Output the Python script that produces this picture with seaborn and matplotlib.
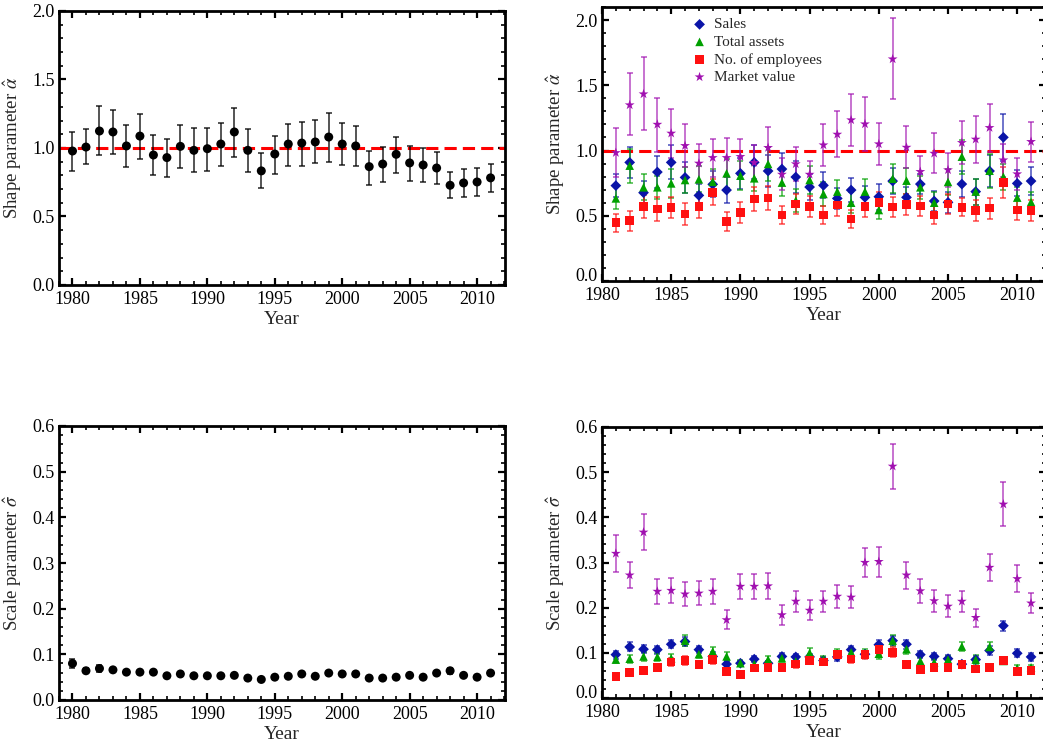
import numpy as np
import pandas as pd
import matplotlib
matplotlib.use("Agg")
import matplotlib.pyplot as plt
from matplotlib.ticker import MultipleLocator, FormatStrFormatter
import seaborn as sns

# ---------------- data ----------------
years_all = list(range(1980, 2012))
years_sub = list(range(1981, 2012))

alpha_all = [0.978, 1.007, 1.124, 1.117, 1.015, 1.087, 0.949, 0.930, 1.012, 0.983, 0.995, 1.029,
             1.117, 0.983, 0.833, 0.956, 1.029, 1.036, 1.044, 1.080, 1.029, 1.015, 0.864, 0.883,
             0.954, 0.891, 0.876, 0.854, 0.728, 0.745, 0.752, 0.782]
alpha_all_hi = [1.114, 1.136, 1.303, 1.274, 1.165, 1.245, 1.092, 1.063, 1.165, 1.148, 1.148, 1.184,
                1.289, 1.136, 0.961, 1.090, 1.177, 1.192, 1.201, 1.252, 1.180, 1.163, 0.981, 1.010,
                1.083, 1.017, 0.998, 0.973, 0.823, 0.847, 0.852, 0.881]
alpha_all_lo = [0.833, 0.881, 0.947, 0.959, 0.864, 0.920, 0.803, 0.786, 0.854, 0.825, 0.833, 0.869,
                0.937, 0.825, 0.706, 0.813, 0.871, 0.871, 0.888, 0.900, 0.876, 0.871, 0.731, 0.755,
                0.820, 0.762, 0.750, 0.735, 0.636, 0.643, 0.653, 0.677]

sigma_all = [0.080, 0.064, 0.069, 0.066, 0.061, 0.061, 0.061, 0.053, 0.057, 0.053, 0.053, 0.053,
             0.054, 0.048, 0.045, 0.050, 0.052, 0.057, 0.052, 0.059, 0.057, 0.057, 0.048, 0.048,
             0.050, 0.054, 0.050, 0.059, 0.064, 0.054, 0.050, 0.059]
sigma_all_err = [0.010, 0.005, 0.007, 0.005, 0.004, 0.004, 0.004, 0.004, 0.004, 0.004, 0.004, 0.004,
                 0.004, 0.004, 0.004, 0.004, 0.004, 0.004, 0.004, 0.004, 0.004, 0.004, 0.004, 0.004,
                 0.004, 0.004, 0.004, 0.005, 0.007, 0.004, 0.004, 0.005]

series_names = ["Sales", "Total assets", "No. of employees", "Market value"]

alpha_sales = [0.731, 0.909, 0.677, 0.835, 0.909, 0.794, 0.656, 0.741, 0.697, 0.825, 0.909, 0.843,
               0.858, 0.797, 0.720, 0.733, 0.633, 0.697, 0.641, 0.646, 0.766, 0.641, 0.743, 0.613,
               0.603, 0.743, 0.685, 0.843, 1.101, 0.748, 0.766]
alpha_sales_err = [0.09, 0.12, 0.09, 0.12, 0.13, 0.12, 0.09, 0.10, 0.10, 0.12, 0.13, 0.12, 0.12, 0.12,
                   0.10, 0.10, 0.08, 0.09, 0.09, 0.10, 0.10, 0.08, 0.08, 0.08, 0.08, 0.10, 0.10, 0.12,
                   0.18, 0.10, 0.105]
alpha_assets = [0.633, 0.884, 0.718, 0.718, 0.748, 0.774, 0.779, 0.760, 0.825, 0.807, 0.787, 0.897,
                0.754, 0.616, 0.774, 0.667, 0.685, 0.600, 0.685, 0.544, 0.784, 0.769, 0.718, 0.600,
                0.759, 0.953, 0.685, 0.845, 0.799, 0.639, 0.605]
alpha_assets_err = [0.085, 0.13, 0.10, 0.09, 0.11, 0.10, 0.10, 0.10, 0.11, 0.11, 0.10, 0.13, 0.10, 0.09,
                    0.11, 0.09, 0.09, 0.08, 0.10, 0.07, 0.11, 0.10, 0.09, 0.08, 0.10, 0.13, 0.10, 0.13,
                    0.10, 0.08, 0.08]
alpha_emp = [0.447, 0.462, 0.570, 0.552, 0.562, 0.513, 0.570, 0.679, 0.455, 0.524, 0.628, 0.636,
             0.506, 0.590, 0.570, 0.506, 0.582, 0.475, 0.570, 0.600, 0.567, 0.587, 0.575, 0.506,
             0.590, 0.565, 0.539, 0.559, 0.754, 0.544, 0.539]
alpha_emp_err = [0.068, 0.078, 0.09, 0.09, 0.08, 0.085, 0.085, 0.10, 0.07, 0.08, 0.09, 0.09, 0.07, 0.08,
                 0.08, 0.07, 0.08, 0.07, 0.08, 0.08, 0.08, 0.08, 0.08, 0.07, 0.08, 0.07, 0.08, 0.08,
                 0.12, 0.08, 0.08]
alpha_mv = [0.983, 1.349, 1.433, 1.200, 1.132, 1.037, 0.902, 0.945, 0.945, 0.953, 0.907, 1.022,
            0.817, 0.897, 0.817, 1.042, 1.124, 1.234, 1.203, 1.050, 1.701, 1.024, 0.838, 0.978,
            0.851, 1.060, 1.086, 1.175, 0.927, 0.820, 1.068]
alpha_mv_hi = [1.175, 1.591, 1.714, 1.400, 1.315, 1.200, 1.050, 1.086, 1.093, 1.088, 1.040, 1.180,
               0.940, 1.030, 0.922, 1.203, 1.305, 1.433, 1.407, 1.208, 2.013, 1.190, 0.960, 1.137,
               0.983, 1.229, 1.264, 1.356, 1.050, 0.940, 1.216]
alpha_mv_lo = [0.800, 1.119, 1.157, 0.991, 0.940, 0.870, 0.750, 0.800, 0.800, 0.810, 0.770, 0.860,
               0.700, 0.770, 0.710, 0.884, 0.953, 1.037, 0.999, 0.889, 1.395, 0.863, 0.720, 0.825,
               0.720, 0.894, 0.902, 0.991, 0.800, 0.700, 0.914]

sigma_sales = [0.096, 0.113, 0.108, 0.107, 0.119, 0.125, 0.107, 0.092, 0.075, 0.077, 0.086, 0.077,
               0.092, 0.091, 0.091, 0.083, 0.091, 0.107, 0.097, 0.118, 0.127, 0.119, 0.096, 0.092,
               0.087, 0.075, 0.085, 0.105, 0.160, 0.099, 0.091]
sigma_sales_err = [0.009, 0.010, 0.009, 0.009, 0.009, 0.010, 0.008, 0.009, 0.006, 0.006, 0.006, 0.006,
                   0.007, 0.007, 0.007, 0.007, 0.008, 0.009, 0.008, 0.010, 0.010, 0.010, 0.008, 0.008,
                   0.008, 0.006, 0.008, 0.010, 0.011, 0.009, 0.008]
sigma_assets = [0.085, 0.087, 0.092, 0.091, 0.088, 0.127, 0.097, 0.103, 0.092, 0.077, 0.075, 0.085,
                0.088, 0.081, 0.100, 0.086, 0.099, 0.101, 0.099, 0.098, 0.127, 0.108, 0.082, 0.079,
                0.085, 0.114, 0.085, 0.113, 0.082, 0.066, 0.068]
sigma_assets_err = [0.008, 0.009, 0.009, 0.009, 0.009, 0.012, 0.009, 0.011, 0.010, 0.007, 0.007, 0.007,
                    0.008, 0.008, 0.010, 0.008, 0.009, 0.009, 0.009, 0.012, 0.012, 0.010, 0.008, 0.008,
                    0.008, 0.010, 0.010, 0.011, 0.007, 0.006, 0.006]
sigma_emp = [0.048, 0.057, 0.061, 0.068, 0.080, 0.083, 0.074, 0.085, 0.059, 0.052, 0.066, 0.068,
             0.068, 0.075, 0.083, 0.080, 0.096, 0.086, 0.096, 0.107, 0.101, 0.074, 0.063, 0.068,
             0.068, 0.074, 0.064, 0.068, 0.083, 0.059, 0.061]
sigma_emp_err = [0.005, 0.007, 0.007, 0.008, 0.009, 0.009, 0.008, 0.009, 0.007, 0.006, 0.007, 0.007,
                 0.008, 0.008, 0.008, 0.008, 0.009, 0.009, 0.009, 0.011, 0.011, 0.007, 0.007, 0.007,
                 0.007, 0.007, 0.007, 0.007, 0.007, 0.007, 0.007]
sigma_mv = [0.320, 0.272, 0.367, 0.236, 0.238, 0.230, 0.232, 0.236, 0.173, 0.247, 0.247, 0.248,
            0.184, 0.214, 0.194, 0.214, 0.225, 0.223, 0.300, 0.302, 0.513, 0.272, 0.237, 0.215,
            0.203, 0.214, 0.178, 0.289, 0.429, 0.264, 0.210]
sigma_mv_err = [0.040, 0.029, 0.040, 0.027, 0.027, 0.026, 0.027, 0.027, 0.021, 0.027, 0.027, 0.028,
                0.022, 0.024, 0.022, 0.024, 0.025, 0.024, 0.033, 0.033, 0.050, 0.030, 0.027, 0.024,
                0.024, 0.024, 0.020, 0.030, 0.049, 0.030, 0.022]

colors = {"Sales": "#0a14a8", "Total assets": "#00a000",
          "No. of employees": "#ff1010", "Market value": "#a010b0"}
markers = {"Sales": "D", "Total assets": "^", "No. of employees": "s", "Market value": "*"}
sizes = {"Sales": 30, "Total assets": 38, "No. of employees": 38, "Market value": 55}

# ---------------- style ----------------
sns.set_theme(style="ticks")
plt.rcParams["font.family"] = ["Liberation Serif", "DejaVu Serif"]
plt.rcParams["mathtext.fontset"] = "stix"
plt.rcParams["axes.linewidth"] = 2.0

W, H = 1043, 746
fig = plt.figure(figsize=(W / 100, H / 100), dpi=100)


def px_axes(l, t, r, b):
    return fig.add_axes([l / W, 1 - b / H, (r - l) / W, (b - t) / H])


X_PER_YEAR_R = 13.85
RIGHT_EDGE = 1046

ax_tl = px_axes(59, 11, 505, 285)
ax_bl = px_axes(59, 426, 505, 700)
ax_tr = px_axes(602, 7, RIGHT_EDGE, 281)
ax_br = px_axes(602, 427, RIGHT_EDGE, 698)


def style_axes(ax, ymaj, ymin):
    ax.xaxis.set_major_locator(MultipleLocator(5))
    ax.xaxis.set_minor_locator(MultipleLocator(1))
    ax.yaxis.set_major_locator(MultipleLocator(ymaj))
    ax.yaxis.set_minor_locator(MultipleLocator(ymin))
    ax.yaxis.set_major_formatter(FormatStrFormatter("%.1f"))
    ax.tick_params(which="both", direction="in", top=True, right=True, labelsize=13,
                   colors="black")
    ax.tick_params(which="major", length=5, width=1.6)
    ax.tick_params(which="minor", length=3, width=1.2)
    ax.tick_params(axis="x", which="major", pad=4.5)
    ax.tick_params(axis="y", which="major", pad=3)
    for s in ax.spines.values():
        s.set_linewidth(2.0)
        s.set_color("black")
    ax.set_xlabel("Year", fontsize=14, labelpad=2)


def lift_zero_label(ax):
    # the "0.0" label sits in the corner next to "1980"; nudge it slightly upward
    fig.canvas.draw()
    for lab in ax.get_yticklabels():
        if lab.get_text() == "0.0":
            lab.set_va("baseline")


# ---------------- top-left ----------------
df_tl = pd.DataFrame({"Year": years_all, "alpha": alpha_all,
                      "lo": alpha_all_lo, "hi": alpha_all_hi})
ax_tl.errorbar(df_tl["Year"], df_tl["alpha"],
               yerr=[df_tl["alpha"] - df_tl["lo"], df_tl["hi"] - df_tl["alpha"]],
               fmt="none", ecolor="black", elinewidth=1.1, capsize=2.5, capthick=1.1, alpha=0.85)
ax_tl.axhline(1.0, color="#ff0000", ls=(0, (4, 2)), lw=2.2, zorder=1)
sns.scatterplot(data=df_tl, x="Year", y="alpha", ax=ax_tl, color="black", s=42,
                edgecolor="none", zorder=3)
ax_tl.set_xlim(1979, 2012.07)
ax_tl.set_ylim(0, 2.0)
style_axes(ax_tl, 0.5, 0.1)
ax_tl.set_ylabel(r"Shape parameter $\hat{\alpha}$", fontsize=13.5, labelpad=6)

# ---------------- bottom-left ----------------
df_bl = pd.DataFrame({"Year": years_all, "sigma": sigma_all, "err": sigma_all_err})
ax_bl.errorbar(df_bl["Year"], df_bl["sigma"], yerr=df_bl["err"], fmt="none", ecolor="black",
               elinewidth=1.1, capsize=2.5, capthick=1.1, alpha=0.85)
sns.scatterplot(data=df_bl, x="Year", y="sigma", ax=ax_bl, color="black", s=42,
                edgecolor="none", zorder=3)
ax_bl.set_xlim(1979, 2012.07)
ax_bl.set_ylim(0, 0.6)
style_axes(ax_bl, 0.1, 0.02)
ax_bl.set_ylabel(r"Scale parameter $\hat{\sigma}$", fontsize=13.5, labelpad=6)

# ---------------- top-right ----------------
alpha_vals = [alpha_sales, alpha_assets, alpha_emp, alpha_mv]
alpha_errs = [alpha_sales_err, alpha_assets_err, alpha_emp_err, None]
rows = []
for name, vals in zip(series_names, alpha_vals):
    for y, v in zip(years_sub, vals):
        rows.append({"Year": y, "value": v, "Series": name})
df_tr = pd.DataFrame(rows)

ax_tr.axhline(1.0, color="#ff0000", ls=(0, (4, 2)), lw=2.2, zorder=1)
for name, vals, errs in zip(series_names, alpha_vals, alpha_errs):
    if errs is None:
        yerr = [np.array(vals) - np.array(alpha_mv_lo), np.array(alpha_mv_hi) - np.array(vals)]
    else:
        yerr = errs
    ax_tr.errorbar(years_sub, vals, yerr=yerr, fmt="none", ecolor=colors[name],
                   elinewidth=1.1, capsize=2.5, capthick=1.1, alpha=0.75, zorder=2)
for name in series_names:
    sub = df_tr[df_tr["Series"] == name]
    sns.scatterplot(data=sub, x="Year", y="value", ax=ax_tr, color=colors[name],
                    marker=markers[name], s=sizes[name], edgecolor="none", zorder=3,
                    label=name)
ax_tr.set_xlim(1980, 1980 + (RIGHT_EDGE - 601.7) / X_PER_YEAR_R)
ax_tr.set_ylim(0, 2.1)
style_axes(ax_tr, 0.5, 0.1)
ax_tr.set_ylabel(r"Shape parameter $\hat{\alpha}$", fontsize=13.5, labelpad=6)
ax_tr.legend(loc="upper left", bbox_to_anchor=(0.175, 1.0), frameon=False, fontsize=11,
             handletextpad=0.35, labelspacing=0.25, borderaxespad=0.3, handlelength=1.2)

# ---------------- bottom-right ----------------
sigma_vals = [sigma_sales, sigma_assets, sigma_emp, sigma_mv]
sigma_errs = [sigma_sales_err, sigma_assets_err, sigma_emp_err, sigma_mv_err]
rows = []
for name, vals in zip(series_names, sigma_vals):
    for y, v in zip(years_sub, vals):
        rows.append({"Year": y, "value": v, "Series": name})
df_br = pd.DataFrame(rows)
for name, vals, errs in zip(series_names, sigma_vals, sigma_errs):
    ax_br.errorbar(years_sub, vals, yerr=errs, fmt="none", ecolor=colors[name],
                   elinewidth=1.1, capsize=2.5, capthick=1.1, alpha=0.75, zorder=2)
for name in series_names:
    sub = df_br[df_br["Series"] == name]
    sns.scatterplot(data=sub, x="Year", y="value", ax=ax_br, color=colors[name],
                    marker=markers[name], s=sizes[name], edgecolor="none", zorder=3,
                    legend=False)
ax_br.set_xlim(1980, 1980 + (RIGHT_EDGE - 601.7) / X_PER_YEAR_R)
ax_br.set_ylim(0, 0.6)
style_axes(ax_br, 0.1, 0.02)
ax_br.set_ylabel(r"Scale parameter $\hat{\sigma}$", fontsize=13.5, labelpad=6)

lift_zero_label(ax_tr)
lift_zero_label(ax_br)

fig.savefig("out.png", dpi=100)
